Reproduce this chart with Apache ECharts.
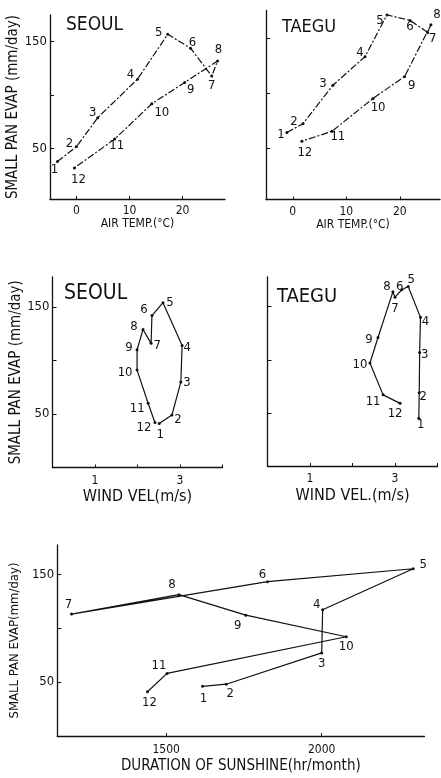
<!DOCTYPE html>
<html>
<head>
<meta charset="utf-8">
<script src="https://cdn.jsdelivr.net/npm/echarts@6.0.0/dist/echarts.min.js"></script>
<style>
html,body{margin:0;padding:0;background:#fff;}
#c{width:441px;height:778px;}
</style>
</head>
<body>
<div id="c"></div>
<script>
// ---------- data ----------
const months = [1,2,3,4,5,6,7,8,9,10,11,12];

// Panel 1: SEOUL, air temperature vs small pan evaporation
const seoulAirTemp  = [-3.6, 0.0, 4.0, 11.5, 17.2, 21.5, 25.5, 26.6, 20.4, 14.2, 7.2, -0.4];
const seoulEvapTemp = [38, 52, 79, 115, 157, 144, 118, 132, 112, 92, 59, 32];

// Panel 2: TAEGU, air temperature vs small pan evaporation
const taeguAirTemp  = [-1.1, 1.9, 7.5, 13.5, 17.6, 21.9, 25.2, 25.8, 20.9, 15.0, 7.3, 1.7];
const taeguEvapTemp = [64, 72, 107, 133, 171, 166, 155, 162, 115, 95, 65, 56];

// Panel 3: SEOUL, wind velocity vs small pan evaporation
const seoulWind     = [2.51, 2.81, 3.02, 3.05, 2.60, 2.34, 2.32, 2.13, 1.99, 1.99, 2.25, 2.41];
const seoulEvapWind = [41, 49, 80, 114, 154, 142, 116, 129, 110, 91, 60, 42];

// Panel 4: TAEGU, wind velocity vs small pan evaporation
const taeguWind     = [3.56, 3.57, 3.58, 3.60, 3.31, 3.16, 3.00, 2.95, 2.60, 2.41, 2.72, 3.12];
const taeguEvapWind = [45, 69, 107, 140, 169, 166, 159, 164, 121, 97, 67, 59];

// Panel 5: duration of sunshine vs small pan evaporation
const sunshine      = [1617, 1693, 2000, 2003, 2294, 1826, 1196, 1541, 1756, 2079, 1503, 1440];
const evapSunshine  = [46, 48, 77, 117, 155, 143, 113, 131, 112, 92, 58, 41];

// tick values / labels
const evapTicks      = [50, 100, 150];
const evapLabels     = [50, 150];
const tempTicks      = [0, 10, 20];
const windTicks      = [1, 2, 3, 4];
const windLabels     = [1, 3];
const sunshineTicks  = [1500, 2000];

// ---------- styling (label offsets of the month numbers) ----------
const offs1 = [[-3,8],[-7,-3],[-5,-5],[-7,-5],[-9,-2],[2,-6],[0,10],[1,-11],[6,7],[10,9],[2,7],[4,12]];
const offs2 = [[-6,2],[-9,-2],[-10,-2],[-5,-4],[-7,6],[0,6],[5,6],[6,-10],[7,9],[5,9],[6,5],[3,11]];
const offs3 = [[1,11],[6,5],[6,1],[5,2],[7,0],[-8,-6],[6,2],[-9,-3],[-8,-2],[-12,3],[-11,5],[-11,5]];
const offs4 = [[2,6],[4,4],[5,2],[5,4],[3,-7],[-2,-3],[0,11],[-6,-5],[-9,2],[-10,2],[-10,7],[-5,10]];
const offs5 = [[1,12],[4,9],[0,11],[-6,-5],[10,-4],[-5,-7],[-3,-9],[-7,-10],[-8,10],[0,10],[-8,-8],[2,11]];

const FONT = '"DejaVu Sans Condensed","Liberation Sans Narrow","DejaVu Sans",sans-serif';
const INK = '#111';

function pts(xs, ys, offs){
  return xs.map((x,i)=>({value:[x, ys[i]], label:{offset:offs[i]}}));
}

function xAxisCfg(grid, min, max, ticks, labels, name, nameGap, nameSize, labelMargin){
  return {
    type:'value', gridIndex:grid, min:min, max:max,
    name:name, nameLocation:'middle', nameGap:nameGap,
    nameTextStyle:{color:INK, fontFamily:FONT, fontSize:nameSize},
    axisLine:{show:true, onZero:false, lineStyle:{color:INK, width:1.3}},
    axisTick:{show:true, inside:true, length:3, customValues:ticks, lineStyle:{color:INK}},
    axisLabel:{show:labels.length>0, customValues:labels, margin:labelMargin, color:INK,
      fontFamily:FONT, fontSize:12, formatter:v=>String(v)},
    splitLine:{show:false}
  };
}
function yAxisCfg(grid, min, max, labels, name, nameGap, nameSize){
  return {
    type:'value', gridIndex:grid, min:min, max:max,
    name:name, nameLocation:'middle', nameGap:nameGap, nameRotate:90,
    nameTextStyle:{color:INK, fontFamily:FONT, fontSize:nameSize||15},
    axisLine:{show:true, onZero:false, lineStyle:{color:INK, width:1.3}},
    axisTick:{show:true, inside:true, length:4, customValues:evapTicks, lineStyle:{color:INK}},
    axisLabel:{show:labels.length>0, customValues:labels, margin:3, color:INK, fontFamily:FONT,
      fontSize:13, formatter:v=>String(v)},
    splitLine:{show:false}
  };
}
function seriesCfg(idx, data, dash){
  return {
    type:'line', xAxisIndex:idx, yAxisIndex:idx, data:data,
    symbol:'circle', symbolSize:3, showSymbol:true,
    itemStyle:{color:INK},
    lineStyle:{color:INK, width:1.2, type:dash||'solid'},
    label:{show:true, position:'inside', color:INK, fontFamily:FONT, fontSize:13,
      formatter:p=>String(months[p.dataIndex])},
    clip:false, animation:false
  };
}

const chart = echarts.init(document.getElementById('c'), null, {renderer:'canvas'});
const YNAME = 'SMALL PAN EVAP (mm/day)';
const tStyle = s => ({fontFamily:FONT, fontSize:s, fontWeight:'normal', color:INK});
chart.setOption({
  backgroundColor:'#fff',
  animation:false,
  title:[
    {text:'SEOUL', left:61, top:11, textStyle:tStyle(19)},
    {text:'TAEGU', left:277, top:13, textStyle:tStyle(18)},
    {text:'SEOUL', left:59, top:278, textStyle:tStyle(21)},
    {text:'TAEGU', left:272, top:282, textStyle:tStyle(20)}
  ],
  grid:[
    {left:50, top:15, width:175, height:184},
    {left:266, top:10.5, width:174, height:189},
    {left:52.5, top:277, width:170, height:190.5},
    {left:267.5, top:277, width:170, height:189},
    {left:51.4, top:545, width:373, height:191}
  ],
  xAxis:[
    xAxisCfg(0, -5, 28, tempTicks, tempTicks, 'AIR TEMP.(°C)', 17, 12, 6),
    xAxisCfg(1, -5, 27.5, tempTicks, tempTicks, 'AIR TEMP.(°C)', 17, 12, 6),
    xAxisCfg(2, 0, 4, windTicks, windLabels, 'WIND VEL(m/s)', 21, 16, 7),
    xAxisCfg(3, 0, 4, windTicks, windLabels, 'WIND VEL.(m/s)', 22, 16, 7),
    xAxisCfg(4, 1150, 2330, sunshineTicks, sunshineTicks, 'DURATION OF SUNSHINE(hr/month)', 23, 15, 8)
  ],
  yAxis:[
    yAxisCfg(0, 3, 175, evapLabels, YNAME, 25, 15),
    yAxisCfg(1, 3, 175, [], '', 0, 15),
    yAxisCfg(2, 0, 178, evapLabels, YNAME, 22, 15),
    yAxisCfg(3, 0, 178, [], '', 0, 15),
    yAxisCfg(4, 0, 177, evapLabels, 'SMALL PAN EVAP(mm/day)', 23, 13)
  ],
  series:[
    seriesCfg(0, pts(seoulAirTemp, seoulEvapTemp, offs1), [7,2,2,2]),
    seriesCfg(1, pts(taeguAirTemp, taeguEvapTemp, offs2), [7,2,2,2]),
    seriesCfg(2, pts(seoulWind, seoulEvapWind, offs3)),
    seriesCfg(3, pts(taeguWind, taeguEvapWind, offs4)),
    seriesCfg(4, pts(sunshine, evapSunshine, offs5))
  ]
});
</script>
</body>
</html>
